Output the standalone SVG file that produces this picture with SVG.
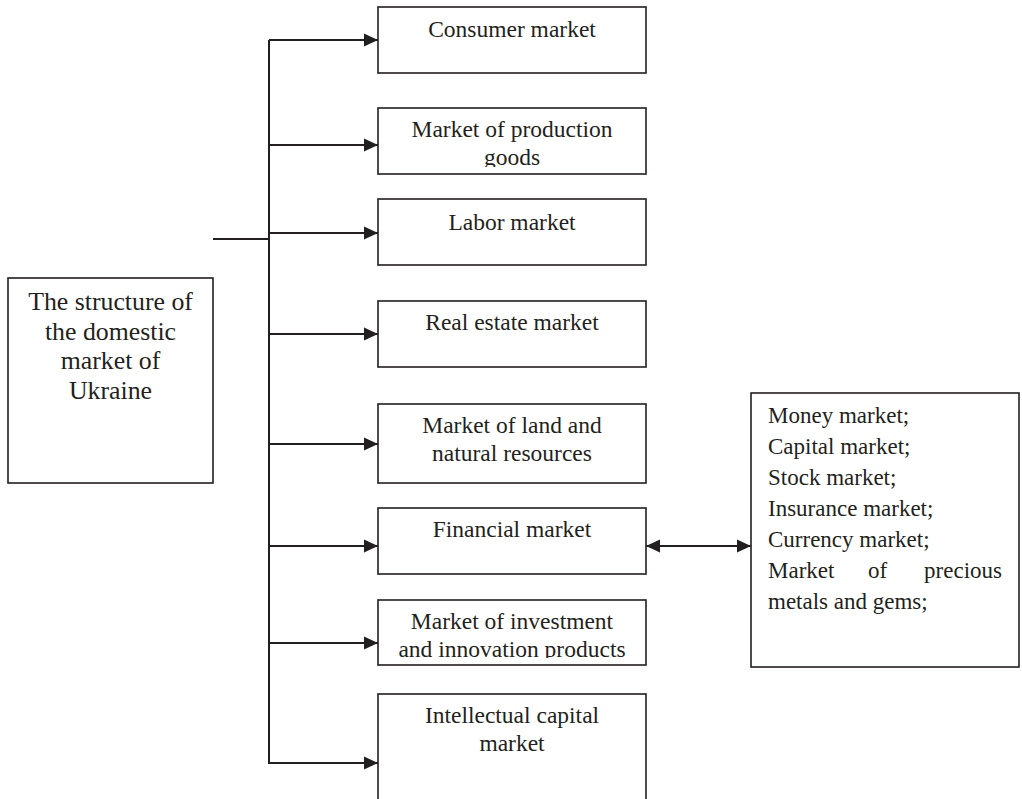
<svg xmlns="http://www.w3.org/2000/svg" width="1022" height="799" viewBox="0 0 1022 799">
  <style>
    .box { fill: #ffffff; stroke: #231f20; stroke-width: 1.6; }
    .wire { fill: none; stroke: #231f20; stroke-width: 2; }
    text { font-family: 'Liberation Serif', 'DejaVu Serif', serif; fill: #231f20; }
    .lbl { font-size: 23.5px; text-anchor: middle; }
    .root { font-size: 25.8px; text-anchor: middle; }
    .list { font-size: 23px; }
  </style>
  <defs>
    <marker id="head" markerUnits="userSpaceOnUse" markerWidth="15" markerHeight="14" refX="14" refY="7" orient="auto">
      <path d="M0,0.5 L14,7 L0,13.5 z" fill="#231f20"/>
    </marker>
    <marker id="tail" markerUnits="userSpaceOnUse" markerWidth="15" markerHeight="14" refX="0" refY="7" orient="auto">
      <path d="M14,0.5 L0,7 L14,13.5 z" fill="#231f20"/>
    </marker>
    <clipPath id="clip2"><rect x="378" y="108" width="268" height="59"/></clipPath>
    <clipPath id="clip7"><rect x="378" y="600" width="268" height="58"/></clipPath>
  </defs>

  <!-- connectors -->
  <g id="connectors">
    <line class="wire" x1="213" y1="239" x2="269" y2="239"/>
    <line class="wire" x1="269" y1="40" x2="269" y2="764"/>
    <line class="wire" x1="269" y1="40" x2="378" y2="40" marker-end="url(#head)"/>
    <line class="wire" x1="269" y1="145" x2="378" y2="145" marker-end="url(#head)"/>
    <line class="wire" x1="269" y1="233" x2="378" y2="233" marker-end="url(#head)"/>
    <line class="wire" x1="269" y1="334" x2="378" y2="334" marker-end="url(#head)"/>
    <line class="wire" x1="269" y1="444" x2="378" y2="444" marker-end="url(#head)"/>
    <line class="wire" x1="269" y1="546" x2="378" y2="546" marker-end="url(#head)"/>
    <line class="wire" x1="269" y1="643" x2="378" y2="643" marker-end="url(#head)"/>
    <line class="wire" x1="269" y1="763" x2="378" y2="763" marker-end="url(#head)"/>
    <line class="wire" x1="646" y1="546" x2="751" y2="546" marker-start="url(#tail)" marker-end="url(#head)"/>
  </g>

  <!-- root node -->
  <g id="root">
    <rect class="box" x="8" y="278" width="205" height="205"/>
    <text class="root" x="110.5" y="310">The structure of</text>
    <text class="root" x="110.5" y="340">the domestic</text>
    <text class="root" x="110.5" y="369">market of</text>
    <text class="root" x="110.5" y="399">Ukraine</text>
  </g>

  <g id="consumer">
    <rect class="box" x="378" y="7" width="268" height="66"/>
    <text class="lbl" x="512" y="37">Consumer market</text>
  </g>

  <g id="production">
    <rect class="box" x="378" y="108" width="268" height="66"/>
    <g clip-path="url(#clip2)">
      <text class="lbl" x="512" y="137">Market of production</text>
      <text class="lbl" x="512" y="165">goods</text>
    </g>
  </g>

  <g id="labor">
    <rect class="box" x="378" y="199" width="268" height="66"/>
    <text class="lbl" x="512" y="230">Labor market</text>
  </g>

  <g id="realestate">
    <rect class="box" x="378" y="301" width="268" height="66"/>
    <text class="lbl" x="512" y="330">Real estate market</text>
  </g>

  <g id="land">
    <rect class="box" x="378" y="404" width="268" height="79"/>
    <text class="lbl" x="512" y="433">Market of land and</text>
    <text class="lbl" x="512" y="461">natural resources</text>
  </g>

  <g id="financial">
    <rect class="box" x="378" y="508" width="268" height="66"/>
    <text class="lbl" x="512" y="537">Financial market</text>
  </g>

  <g id="investment">
    <rect class="box" x="378" y="600" width="268" height="65"/>
    <g clip-path="url(#clip7)">
      <text class="lbl" x="512" y="629">Market of investment</text>
      <text class="lbl" x="512" y="657">and innovation products</text>
    </g>
  </g>

  <g id="intellectual">
    <rect class="box" x="378" y="694" width="268" height="120"/>
    <text class="lbl" x="512" y="723">Intellectual capital</text>
    <text class="lbl" x="512" y="751">market</text>
  </g>

  <!-- financial market segments -->
  <g id="segments">
    <rect class="box" x="751" y="393" width="268" height="274"/>
    <text class="list" x="768" y="423">Money market;</text>
    <text class="list" x="768" y="454">Capital market;</text>
    <text class="list" x="768" y="485">Stock market;</text>
    <text class="list" x="768" y="516">Insurance market;</text>
    <text class="list" x="768" y="547">Currency market;</text>
    <text class="list" x="768" y="578">Market</text>
    <text class="list" x="868" y="578">of</text>
    <text class="list" x="1002" y="578" text-anchor="end">precious</text>
    <text class="list" x="768" y="609">metals and gems;</text>
  </g>
</svg>
